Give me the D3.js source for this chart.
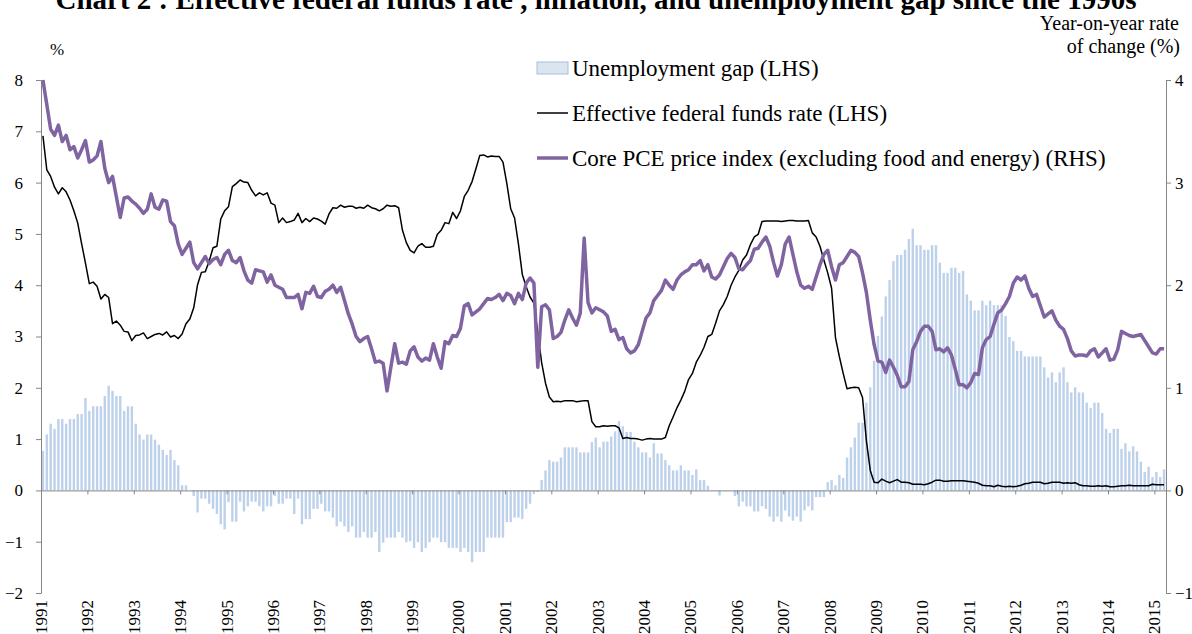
<!DOCTYPE html>
<html><head><meta charset="utf-8">
<script src="https://cdn.jsdelivr.net/npm/d3@7"></script>
<style>
html,body{margin:0;padding:0;background:#fff;}
svg{display:block;font-family:"Liberation Serif","Times New Roman",serif;}
</style></head>
<body><svg id="c" width="1192" height="634"></svg>
<script>
// ---- data (monthly, Jan 1991 - Mar 2015) ----
const years = d3.range(1991, 2016);
const yTicksLeft = [-2,-1,0,1,2,3,4,5,6,7,8];
const yTicksRight = [-1,0,1,2,3,4];

const fedFunds = [
6.91,6.25,6.12,5.91,5.78,5.90,5.82,5.66,5.45,5.21,4.81,4.43,
4.03,4.06,3.98,3.73,3.82,3.76,3.25,3.30,3.22,3.10,3.09,2.92,
3.02,3.03,3.07,2.96,3.00,3.04,3.06,3.03,3.09,2.99,3.02,2.96,
3.05,3.25,3.34,3.56,4.01,4.25,4.26,4.47,4.73,4.76,5.29,5.45,
5.53,5.92,5.98,6.05,6.01,6.00,5.85,5.74,5.80,5.76,5.80,5.60,
5.56,5.22,5.31,5.22,5.24,5.27,5.40,5.22,5.30,5.24,5.31,5.29,
5.25,5.19,5.39,5.51,5.50,5.56,5.52,5.54,5.54,5.50,5.52,5.50,
5.56,5.51,5.49,5.45,5.49,5.56,5.54,5.55,5.51,5.07,4.83,4.68,
4.63,4.76,4.81,4.74,4.74,4.76,4.99,5.07,5.22,5.20,5.42,5.30,
5.45,5.73,5.85,6.02,6.27,6.53,6.54,6.50,6.52,6.51,6.51,6.40,
5.98,5.49,5.31,4.80,4.21,3.97,3.77,3.65,3.07,2.49,2.09,1.82,
1.73,1.74,1.73,1.75,1.75,1.75,1.73,1.74,1.75,1.75,1.34,1.24,
1.24,1.26,1.25,1.26,1.26,1.22,1.01,1.03,1.01,1.01,1.00,0.98,
1.00,1.01,1.00,1.00,1.00,1.03,1.26,1.43,1.61,1.76,1.93,2.16,
2.28,2.50,2.63,2.79,3.00,3.04,3.26,3.50,3.62,3.78,4.00,4.16,
4.29,4.49,4.59,4.79,4.94,4.99,5.24,5.25,5.25,5.25,5.25,5.24,
5.25,5.26,5.26,5.25,5.25,5.25,5.26,5.02,4.94,4.76,4.49,4.24,
3.94,2.98,2.61,2.28,1.98,2.00,2.01,2.00,1.81,0.97,0.39,0.16,
0.15,0.22,0.18,0.15,0.18,0.21,0.16,0.16,0.15,0.12,0.12,0.12,
0.11,0.13,0.16,0.20,0.20,0.18,0.18,0.19,0.19,0.19,0.19,0.18,
0.17,0.16,0.14,0.10,0.09,0.09,0.07,0.10,0.08,0.07,0.08,0.07,
0.08,0.10,0.13,0.14,0.16,0.16,0.16,0.13,0.14,0.16,0.16,0.16,
0.14,0.15,0.14,0.15,0.11,0.09,0.09,0.08,0.08,0.09,0.08,0.09,
0.07,0.07,0.08,0.09,0.09,0.10,0.09,0.09,0.09,0.09,0.09,0.12,
0.11,0.11,0.11];

const unempGap = [
0.77,1.09,1.30,1.20,1.39,1.39,1.30,1.39,1.39,1.49,1.49,1.80,
1.55,1.64,1.64,1.64,1.84,2.04,1.94,1.84,1.84,1.55,1.64,1.64,
1.30,1.09,0.99,1.09,1.09,0.99,0.89,0.79,0.69,0.79,0.59,0.49,
0.10,0.10,0.00,-0.11,-0.43,-0.16,-0.16,-0.26,-0.36,-0.46,-0.66,-0.76,
-0.23,-0.61,-0.61,-0.22,-0.41,-0.31,-0.22,-0.22,-0.31,-0.41,-0.31,-0.31,
-0.11,-0.26,-0.26,-0.16,-0.16,-0.46,-0.16,-0.66,-0.56,-0.56,-0.36,-0.36,
-0.26,-0.41,-0.41,-0.53,-0.70,-0.61,-0.70,-0.81,-0.70,-0.92,-0.92,-0.81,
-0.92,-0.92,-0.81,-1.20,-1.02,-0.92,-0.92,-0.92,-0.81,-0.92,-1.01,-0.99,
-1.12,-1.01,-1.20,-1.12,-1.01,-0.92,-0.92,-1.01,-1.01,-1.12,-1.12,-1.12,
-1.20,-1.12,-1.20,-1.40,-1.20,-1.20,-1.20,-0.92,-0.92,-0.92,-0.92,-0.92,
-0.62,-0.62,-0.53,-0.53,-0.56,-0.36,-0.26,-0.07,-0.03,0.20,0.39,0.59,
0.56,0.56,0.64,0.84,0.84,0.84,0.84,0.74,0.74,0.74,0.94,1.03,
0.84,0.95,0.95,1.05,1.15,1.35,1.25,1.14,1.14,0.95,0.84,0.74,
0.74,0.64,0.92,0.72,0.72,0.59,0.49,0.39,0.39,0.49,0.39,0.39,
0.30,0.41,0.20,0.20,0.09,0.00,0.00,-0.10,0.00,0.00,0.00,-0.11,
-0.31,-0.22,-0.31,-0.31,-0.41,-0.41,-0.31,-0.36,-0.51,-0.61,-0.51,-0.61,
-0.39,-0.51,-0.59,-0.51,-0.61,-0.39,-0.31,-0.39,-0.13,-0.13,-0.13,0.16,
0.20,0.10,0.30,0.24,0.64,0.84,1.03,1.32,1.32,1.71,2.01,2.53,
3.01,3.39,3.78,4.10,4.47,4.59,4.59,4.69,4.90,5.10,4.78,4.78,
4.69,4.69,4.78,4.78,4.44,4.24,4.24,4.34,4.34,4.24,4.28,3.82,
3.70,3.51,3.51,3.70,3.61,3.70,3.61,3.61,3.61,3.40,2.99,2.91,
2.72,2.72,2.61,2.61,2.61,2.61,2.61,2.40,2.20,2.30,2.11,2.30,
2.40,2.11,1.91,2.01,1.91,1.91,1.71,1.61,1.71,1.71,1.51,1.20,
1.12,1.20,1.20,0.81,0.92,0.76,0.86,0.76,0.56,0.36,0.46,0.26,
0.36,0.26,0.41];

const corePCE = [
4.00,3.76,3.52,3.46,3.56,3.40,3.46,3.32,3.35,3.24,3.32,3.41,
3.20,3.22,3.26,3.40,3.14,3.00,3.06,2.86,2.66,2.85,2.86,2.82,
2.79,2.75,2.70,2.74,2.89,2.76,2.74,2.83,2.82,2.62,2.58,2.40,
2.30,2.36,2.42,2.22,2.16,2.22,2.28,2.21,2.25,2.27,2.20,2.30,
2.34,2.24,2.22,2.27,2.14,2.05,2.02,2.15,2.14,2.13,2.03,2.10,
2.00,1.98,1.96,1.88,1.88,1.88,1.91,1.77,1.93,1.92,1.99,1.89,
1.88,1.94,1.96,2.00,1.93,1.98,1.85,1.72,1.62,1.50,1.45,1.48,
1.50,1.38,1.25,1.26,1.24,0.97,1.20,1.43,1.24,1.25,1.23,1.36,
1.40,1.30,1.26,1.29,1.27,1.43,1.30,1.19,1.45,1.43,1.51,1.50,
1.58,1.80,1.82,1.71,1.74,1.77,1.82,1.87,1.86,1.88,1.91,1.85,
1.92,1.90,1.82,1.92,1.86,2.02,2.07,2.02,1.20,1.79,1.81,1.76,
1.48,1.50,1.54,1.66,1.76,1.68,1.61,1.73,2.46,1.83,1.73,1.78,
1.76,1.74,1.70,1.55,1.57,1.47,1.49,1.38,1.34,1.36,1.42,1.55,
1.68,1.73,1.85,1.90,1.95,2.05,2.00,1.96,2.05,2.10,2.13,2.15,
2.20,2.20,2.24,2.14,2.20,2.08,2.06,2.10,2.18,2.26,2.31,2.27,
2.16,2.15,2.20,2.24,2.35,2.36,2.42,2.47,2.38,2.22,2.09,2.20,
2.40,2.47,2.30,2.13,2.00,1.97,1.99,1.96,2.08,2.20,2.30,2.34,
2.18,2.05,2.20,2.22,2.28,2.34,2.32,2.28,2.12,1.93,1.66,1.42,
1.26,1.25,1.15,1.27,1.20,1.12,1.01,1.01,1.06,1.37,1.45,1.55,
1.60,1.60,1.55,1.37,1.38,1.35,1.39,1.32,1.18,1.03,1.03,1.00,
1.05,1.14,1.13,1.39,1.47,1.50,1.62,1.73,1.76,1.82,1.89,2.02,
2.08,2.05,2.09,1.97,1.89,1.91,1.80,1.69,1.72,1.75,1.66,1.60,
1.57,1.48,1.36,1.31,1.32,1.32,1.31,1.36,1.38,1.30,1.34,1.38,
1.27,1.28,1.37,1.55,1.53,1.51,1.50,1.51,1.52,1.46,1.40,1.34,
1.33,1.38,1.38];

// month categories
const months = [];
years.forEach(y => { for (let m = 1; m <= 12; m++) months.push(y + "-" + String(m).padStart(2, "0")); });
months.length = fedFunds.length;

const seriesNames = ["Unemployment gap (LHS)", "Effective federal funds rate (LHS)", "Core PCE price index (excluding food and energy) (RHS)"];
const title = "Chart 2 : Effective federal funds rate , inflation, and unemployment gap since the 1990s";

// ---- layout ----
const X0 = 41, X1 = 1166, YT = 80, YB = 593;
const axisCol = "#868686";
const svg = d3.select("#c");

const x = d3.scaleBand().domain(months).range([X0, X1]).paddingInner(0.38).paddingOuter(0.19);
const xb = d3.scaleLinear().domain([0, months.length]).range([X0, X1]);
const yL = d3.scaleLinear().domain([-2, 8]).range([YB, YT]);
const yR = d3.scaleLinear().domain([-1, 4]).range([YB, YT]);
const cx = m => x(m) + x.bandwidth() / 2;

// title (top clipped as in the reference)
svg.append("text").attr("x", 596).attr("y", 9).attr("text-anchor", "middle")
  .attr("font-size", 29).attr("font-weight", "bold").text(title);

// unit labels
svg.append("text").attr("x", 57).attr("y", 55).attr("text-anchor", "middle").attr("font-size", 17).text("%");
svg.append("text").attr("x", 1179).attr("y", 30).attr("text-anchor", "end").attr("font-size", 20).text("Year-on-year rate");
svg.append("text").attr("x", 1180).attr("y", 53).attr("text-anchor", "end").attr("font-size", 20).text("of change (%)");

// bars
svg.append("g").selectAll("rect").data(unempGap).join("rect")
  .attr("x", (d, i) => x(months[i]))
  .attr("width", x.bandwidth())
  .attr("y", d => yL(Math.max(0, d)))
  .attr("height", d => Math.abs(yL(d) - yL(0)))
  .attr("fill", "#bdd1eb");

// axes
function styleAxis(g) {
  g.selectAll("path,line").attr("stroke", axisCol).attr("stroke-width", 1);
  g.selectAll("text").attr("fill", "#000").attr("font-family", "Liberation Serif, Times New Roman, serif");
}
svg.append("g").attr("transform", `translate(${X0},0)`)
  .call(d3.axisLeft(yL).tickValues(yTicksLeft).tickFormat(d3.format("d")).tickSize(5).tickSizeOuter(0).tickPadding(13))
  .call(g => g.selectAll("text").attr("font-size", 17))
  .call(styleAxis);
svg.append("g").attr("transform", `translate(${X1},0)`)
  .call(d3.axisRight(yR).tickValues(yTicksRight).tickFormat(d3.format("d")).tickSize(5).tickSizeOuter(0).tickPadding(4))
  .call(g => g.selectAll("text").attr("font-size", 17))
  .call(styleAxis);
// zero line with year ticks
svg.append("g").attr("transform", `translate(0,${yL(0)})`)
  .call(d3.axisBottom(xb).tickValues(d3.range(0, months.length, 12)).tickSize(4).tickSizeOuter(0).tickFormat(""))
  .call(styleAxis);
// rotated year labels
svg.append("g").selectAll("text").data(years).join("text")
  .attr("transform", (d, i) => `translate(${xb(i * 12)},${600}) rotate(-90)`)
  .attr("text-anchor", "end").attr("dy", "0.35em").attr("font-size", 17).text(d => d);

// lines
const lineL = d3.line().x((d, i) => cx(months[i])).y(d => yL(d));
const lineR = d3.line().x((d, i) => cx(months[i])).y(d => yR(d));
svg.append("path").datum(fedFunds).attr("d", lineL).attr("fill", "none").attr("stroke", "#000").attr("stroke-width", 1.5).attr("stroke-linejoin", "round");
svg.append("path").datum(corePCE).attr("d", lineR).attr("fill", "none").attr("stroke", "#8064a2").attr("stroke-width", 3.5).attr("stroke-linejoin", "round");

// legend
const lg = svg.append("g").attr("font-size", 23);
const ly = [68, 113, 158];
lg.append("rect").attr("x", 537).attr("y", ly[0] - 6).attr("width", 31).attr("height", 12).attr("fill", "#dbe5f1").attr("stroke", "#a6bfdd");
lg.append("line").attr("x1", 537).attr("x2", 568).attr("y1", ly[1]).attr("y2", ly[1]).attr("stroke", "#000").attr("stroke-width", 1.5);
lg.append("line").attr("x1", 537).attr("x2", 568).attr("y1", ly[2]).attr("y2", ly[2]).attr("stroke", "#8064a2").attr("stroke-width", 3.5);
lg.selectAll("text").data(seriesNames).join("text")
  .attr("x", 572).attr("y", (d, i) => ly[i]).attr("dy", "0.35em").text(d => d);
</script></body></html>
